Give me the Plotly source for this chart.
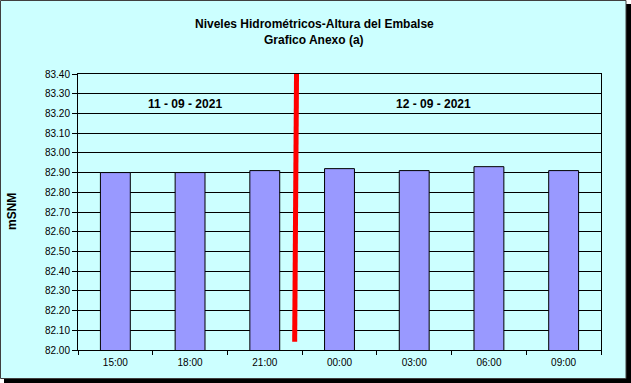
import plotly.graph_objects as go

hours = ["15:00", "18:00", "21:00", "00:00", "03:00", "06:00", "09:00"]
levels = [82.90, 82.90, 82.91, 82.92, 82.91, 82.93, 82.91]
date_labels = ["11 - 09 - 2021", "12 - 09 - 2021"]
title_lines = ["Niveles Hidrométricos-Altura del Embalse", "Grafico Anexo (a)"]
y_title = "mSNM"

FONT = "Arial, Liberation Sans, sans-serif"

fig = go.Figure()
fig.add_trace(go.Bar(
    x=hours, y=levels, width=0.4,
    marker=dict(color="#9999FF", line=dict(color="#000000", width=1)),
    hoverinfo="x+y",
))

# shadow
fig.add_shape(type="rect", xref="paper", yref="paper",
              x0=(4-78)/523, x1=(632-78)/523, y0=(350-384)/276, y1=(350-4)/276,
              fillcolor="#000000", line=dict(width=0), layer="below")
# frame / background
fig.add_shape(type="rect", xref="paper", yref="paper",
              x0=-77.5/523, x1=548/523, y0=(350-378.5)/276, y1=(350-0.5)/276,
              fillcolor="#CCFFFF", line=dict(color="#404040", width=1), layer="below")

# red day separator
fig.add_shape(type="line", xref="x", yref="y",
              x0=2.425, x1=2.40, y0=83.41, y1=82.042,
              line=dict(color="#FF0000", width=5))

annotations = [
    dict(text="<b>%s</b>" % title_lines[0], x=(314-78)/523, y=(350-24)/276),
    dict(text="<b>%s</b>" % title_lines[1], x=(314-78)/523, y=(350-40)/276),
    dict(text="<b>%s</b>" % date_labels[0], x=(185-78)/523, y=(350-104)/276),
    dict(text="<b>%s</b>" % date_labels[1], x=(433-78)/523, y=(350-104)/276),
]
for a in annotations:
    fig.add_annotation(xref="paper", yref="paper", showarrow=False,
                       xanchor="center", yanchor="middle",
                       font=dict(family=FONT, size=12, color="#000000"), **a)
fig.add_annotation(xref="paper", yref="paper", showarrow=False,
                   text="<b>%s</b>" % y_title, textangle=-90,
                   x=(12-78)/523, y=0.5, xanchor="center", yanchor="middle",
                   font=dict(family=FONT, size=12, color="#000000"))

fig.update_layout(
    width=631, height=383,
    margin=dict(l=78, r=30, t=74, b=33),
    paper_bgcolor="#FFFFFF",
    plot_bgcolor="#FFFFFF",
    showlegend=False,
    bargap=0.6,
    font=dict(family=FONT, size=10, color="#000000"),
)
fig.update_xaxes(
    type="category", tickson="boundaries", ticks="outside", ticklen=4,
    tickcolor="#000000", showgrid=False, showline=True, linecolor="#000000",
    linewidth=1, mirror=True, tickfont=dict(size=10), range=[-0.5, 6.5],
    ticklabelstandoff=3,
)
fig.update_yaxes(
    range=[82.0, 83.4], dtick=0.1, tickformat=".2f", ticks="outside", ticklen=5,
    tickcolor="#000000", showgrid=True, gridcolor="#000000", gridwidth=1,
    showline=True, linecolor="#000000", linewidth=1, mirror=True,
    tickfont=dict(size=10), zeroline=False,
)

fig.write_html("out.html")
